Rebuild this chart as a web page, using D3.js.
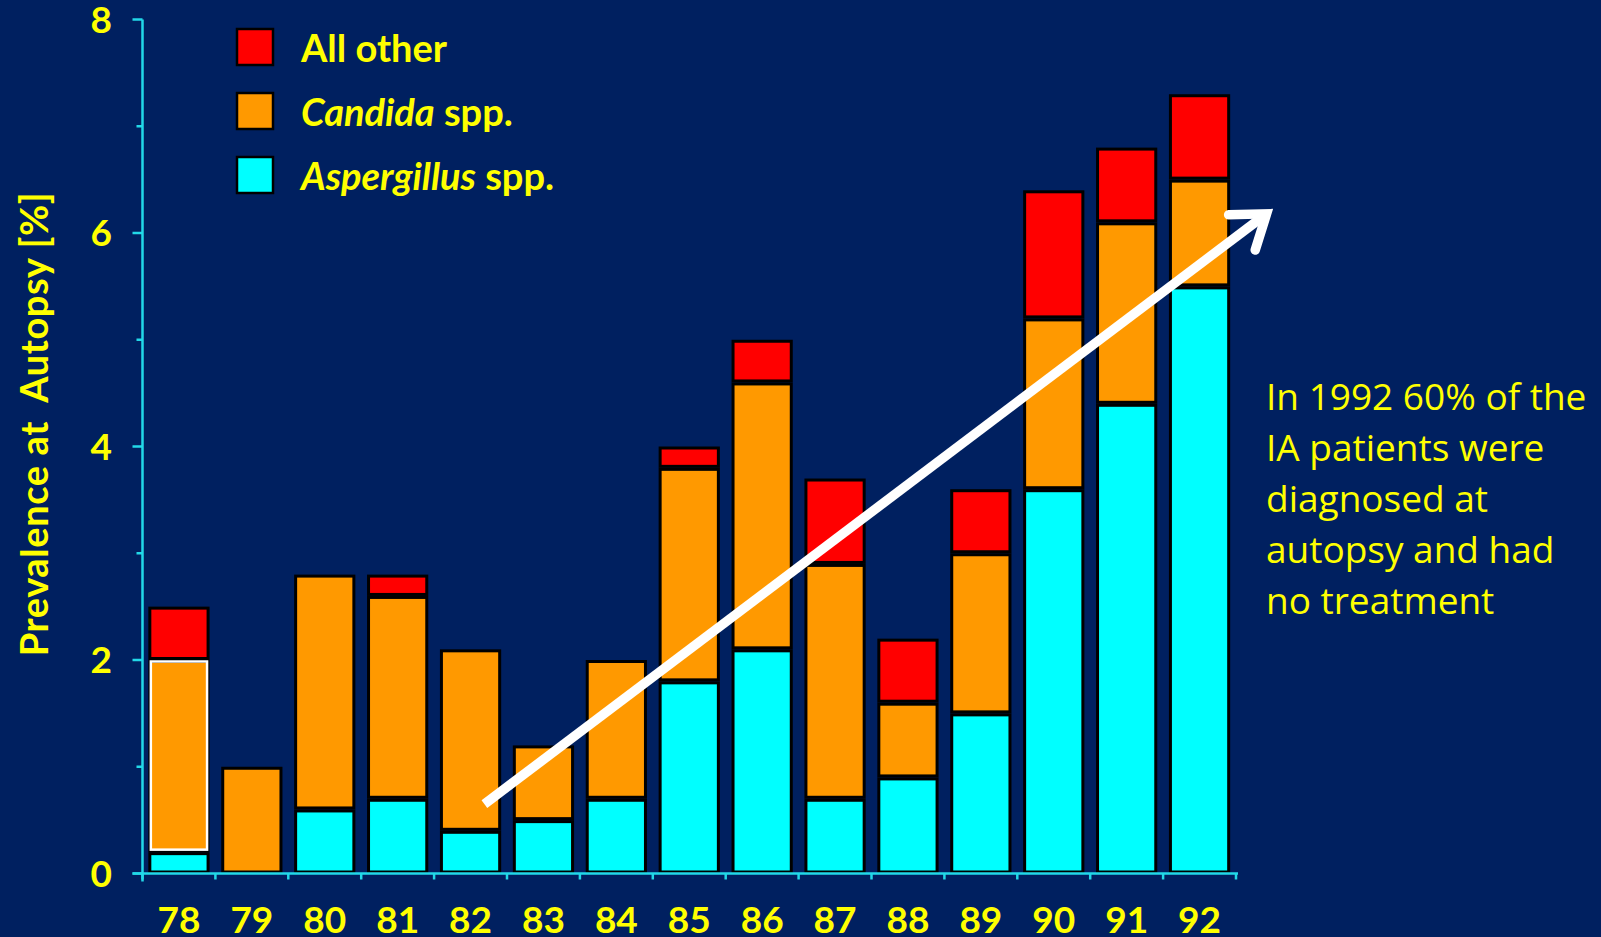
<!DOCTYPE html>
<html>
<head>
<meta charset="utf-8">
<script src="https://cdn.jsdelivr.net/npm/d3@7"></script>
<style>
  html, body { margin: 0; padding: 0; background: #002060; }
  svg { display: block; }
</style>
</head>
<body>
<svg id="chart" width="1601" height="937"></svg>
<script>
// Autopsy prevalence of invasive fungal infections by year (1978–1992)
const years = ["78","79","80","81","82","83","84","85","86","87","88","89","90","91","92"];
const aspergillus = [0.2, 0.0, 0.6, 0.7, 0.4, 0.5, 0.7, 1.8, 2.1, 0.7, 0.9, 1.5, 3.6, 4.4, 5.5];
const candida     = [1.8, 1.0, 2.2, 1.9, 1.7, 0.7, 1.3, 2.0, 2.5, 2.2, 0.7, 1.5, 1.6, 1.7, 1.0];
const allOther    = [0.5, 0.0, 0.0, 0.2, 0.0, 0.0, 0.0, 0.2, 0.4, 0.8, 0.6, 0.6, 1.2, 0.7, 0.8];
const yTicks = [0, 2, 4, 6, 8];
const yMinorTicks = [1, 3, 5, 7];
const seriesNames = ["Aspergillus", "Candida", "All other"];
const seriesColors = ["#00FFFF", "#FF9900", "#FF0000"];
const noteLines = ["In 1992 60% of the", "IA patients were", "diagnosed at", "autopsy and had", "no treatment"];

const svg = d3.select("#chart");
const W = 1601, H = 937;
const margin = { left: 142.5, right: W - 1236, top: 19.5, bottom: H - 873.5 };
const yellow = "#FFFF00";
const axisColor = "#22D8E8";
const font = "Lato, 'Open Sans', 'DejaVu Sans', sans-serif";

svg.append("rect").attr("width", W).attr("height", H).attr("fill", "#002060");

const x = d3.scaleBand().domain(years)
  .range([margin.left, W - margin.right]).paddingInner(0.16).paddingOuter(0.08);
const y = d3.scaleLinear().domain([0, 8]).range([H - margin.bottom, margin.top]);

// stack the three series
const rows = years.map((yr, i) => ({ year: yr, Aspergillus: aspergillus[i], Candida: candida[i], "All other": allOther[i] }));
const stacked = d3.stack().keys(seriesNames)(rows);

const g = svg.append("g");
stacked.forEach((layer, li) => {
  g.selectAll(null).data(layer.filter(d => d[1] - d[0] > 0)).join("rect")
    .attr("x", d => x(d.data.year) + 1.5)
    .attr("width", x.bandwidth() - 3)
    .attr("y", d => y(d[1]) + 1.5)
    .attr("height", d => Math.max(0, y(d[0]) - y(d[1]) - 3))
    .attr("fill", seriesColors[li])
    .attr("stroke", "#000")
    .attr("stroke-width", 3);
});
// the 1978 Candida segment is outlined in white
const hl = stacked[1][0];
g.append("rect")
  .attr("x", x(hl.data.year) + 2.5).attr("width", x.bandwidth() - 5)
  .attr("y", y(hl[1]) + 1.5).attr("height", y(hl[0]) - y(hl[1]) - 4)
  .attr("fill", "none").attr("stroke", "#FFFFFF").attr("stroke-width", 2.5);

// y axis
const yAxis = svg.append("g");
yAxis.append("line").attr("x1", margin.left).attr("x2", margin.left)
  .attr("y1", y(8)).attr("y2", y(0) + 8).attr("stroke", axisColor).attr("stroke-width", 2.5);
yAxis.selectAll(".maj").data(yTicks).join("line")
  .attr("x1", margin.left - 10).attr("x2", margin.left)
  .attr("y1", d => y(d)).attr("y2", d => y(d))
  .attr("stroke", axisColor).attr("stroke-width", 2.5);
yAxis.selectAll(".min").data(yMinorTicks).join("line")
  .attr("x1", margin.left - 6).attr("x2", margin.left)
  .attr("y1", d => y(d)).attr("y2", d => y(d))
  .attr("stroke", axisColor).attr("stroke-width", 2.5);
yAxis.selectAll("text").data(yTicks).join("text")
  .attr("x", 112).attr("y", d => y(d)).attr("dy", "0.36em")
  .attr("text-anchor", "end").attr("fill", yellow)
  .attr("font-family", font).attr("font-weight", 700).attr("font-size", 37)
  .text(d => d);

// x axis
const xAxis = svg.append("g");
xAxis.append("line").attr("x1", margin.left - 10).attr("x2", W - margin.right + 2)
  .attr("y1", y(0)).attr("y2", y(0)).attr("stroke", axisColor).attr("stroke-width", 2.5);
const bounds = years.map(yr => x(yr) - x.step() * x.paddingInner() / 2).concat([W - margin.right]);
xAxis.selectAll(".tk").data(bounds).join("line")
  .attr("x1", d => d).attr("x2", d => d)
  .attr("y1", y(0)).attr("y2", y(0) + 6)
  .attr("stroke", axisColor).attr("stroke-width", 2.5);
xAxis.selectAll("text").data(years).join("text")
  .attr("x", d => x(d) + x.bandwidth() / 2).attr("y", 920).attr("dy", "0.36em")
  .attr("text-anchor", "middle").attr("fill", yellow)
  .attr("font-family", font).attr("font-weight", 700).attr("font-size", 37)
  .text(d => d);

// y axis title
svg.append("text")
  .attr("transform", "translate(34,424) rotate(-90)")
  .attr("text-anchor", "middle").attr("dy", "0.36em")
  .attr("fill", yellow).attr("font-family", font).attr("font-weight", 700).attr("font-size", 38)
  .attr("letter-spacing", 0.6)
  .attr("xml:space", "preserve")
  .text("Prevalence at  Autopsy [%]");

// legend (top series first)
const legendItems = [
  { color: seriesColors[2], italic: "", rest: "All other" },
  { color: seriesColors[1], italic: "Candida", rest: " spp." },
  { color: seriesColors[0], italic: "Aspergillus", rest: " spp." }
];
const lg = svg.append("g");
legendItems.forEach((it, i) => {
  const cy = 47 + i * 64;
  lg.append("rect").attr("x", 237).attr("y", cy - 18).attr("width", 36).attr("height", 36)
    .attr("fill", it.color).attr("stroke", "#000").attr("stroke-width", 2.5);
  const t = lg.append("text").attr("x", 301).attr("y", cy + 1).attr("dy", "0.36em")
    .attr("fill", yellow).attr("font-family", font).attr("font-weight", 700).attr("font-size", 38)
    .attr("xml:space", "preserve");
  if (it.italic) t.append("tspan").attr("font-style", "italic").text(it.italic);
  t.append("tspan").text(it.rest);
});

// trend arrow, placed in band/value coordinates
const bx = v => margin.left + v * x.step();
const a0 = [bx(4.69), y(0.65)], a1 = [bx(15.42), y(6.18)];
const ang = Math.atan2(a1[1] - a0[1], a1[0] - a0[0]);
const headLen = 38, headAng = 0.62;
svg.append("line").attr("x1", a0[0]).attr("y1", a0[1]).attr("x2", a1[0] - 6 * Math.cos(ang)).attr("y2", a1[1] - 6 * Math.sin(ang))
  .attr("stroke", "#FFFFFF").attr("stroke-width", 9.5);
svg.append("path")
  .attr("d", d3.line()([
    [a1[0] - headLen * Math.cos(ang - headAng), a1[1] - headLen * Math.sin(ang - headAng)],
    a1,
    [a1[0] - headLen * Math.cos(ang + headAng), a1[1] - headLen * Math.sin(ang + headAng)]
  ]))
  .attr("fill", "none").attr("stroke", "#FFFFFF").attr("stroke-width", 9.5)
  .attr("stroke-linecap", "round").attr("stroke-linejoin", "miter");

// side note
svg.append("g").selectAll("text").data(noteLines).join("text")
  .attr("x", 1266).attr("y", (d, i) => 397 + i * 51).attr("dy", "0.35em")
  .attr("fill", yellow).attr("font-family", "'Open Sans', Lato, sans-serif").attr("font-size", 37)
  .text(d => d);
</script>
</body>
</html>
